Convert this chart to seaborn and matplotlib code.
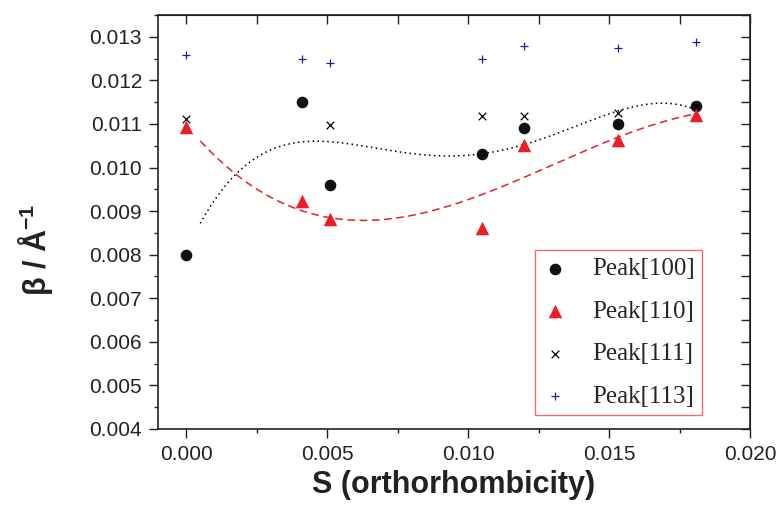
import numpy as np
import pandas as pd
import seaborn as sns
import matplotlib.pyplot as plt

# --------------------------- DATA ---------------------------
s_values = [0.0000, 0.0041, 0.0051, 0.0105, 0.0120, 0.0153, 0.0181]

peak_100 = [0.00800, 0.01150, 0.00960, 0.01030, 0.01090, 0.01100, 0.01140]
peak_110 = [0.01092, 0.00922, 0.00882, 0.00861, 0.01052, 0.01062, 0.01121]
peak_111 = [0.01111, np.nan, 0.01098, 0.01119, 0.01119, 0.01124, 0.01140]
peak_113 = [0.01258, 0.01249, 0.01239, 0.01249, 0.01279, 0.01274, 0.01289]

labels = ['Peak[100]', 'Peak[110]', 'Peak[111]', 'Peak[113]']

# fitted curves are drawn from S = 0.0005 up to the last point
fit_start = 0.0005

df = pd.DataFrame({
    'S': s_values,
    'Peak[100]': peak_100,
    'Peak[110]': peak_110,
    'Peak[111]': peak_111,
    'Peak[113]': peak_113,
})

# --------------------------- POLY FITS ---------------------------
def poly_fit(x, y, order):
    coef = np.polyfit(x, y, order)
    xs = np.linspace(fit_start, max(x), 200)
    return pd.DataFrame({'S': xs, 'fit': np.polyval(coef, xs)})

fit_100 = poly_fit(s_values, peak_100, 4)
fit_110 = poly_fit(s_values, peak_110, 3)

# --------------------------- STYLE ---------------------------
sns.set_style('ticks')
plt.rcParams['font.family'] = ['Liberation Sans', 'DejaVu Sans']
plt.rcParams['mathtext.fontset'] = 'custom'
plt.rcParams['mathtext.rm'] = 'Liberation Sans'
plt.rcParams['mathtext.bf'] = 'Liberation Sans:bold'

fig = plt.figure(figsize=(7.76, 5.11), dpi=100)
ax = fig.add_axes([0.2036, 0.1605, 0.7629, 0.8102])

sns.lineplot(data=fit_100, x='S', y='fit', color='black', lw=1.1,
             ls=(0, (1, 2.2)), ax=ax)
sns.lineplot(data=fit_110, x='S', y='fit', color='#e8202a', lw=1.1,
             ls=(0, (5, 3)), ax=ax)

# scatter points
sns.scatterplot(data=df, x='S', y='Peak[100]', marker='o', s=70, color='#111111',
                edgecolor='#111111', linewidth=0, label='Peak[100]', ax=ax, zorder=3)
sns.scatterplot(data=df, x='S', y='Peak[110]', marker='^', s=95, color='#ee1c24',
                edgecolor='#ee1c24', linewidth=0, label='Peak[110]', ax=ax, zorder=3)
sns.scatterplot(data=df, x='S', y='Peak[111]', marker='x', s=30, color='black',
                linewidth=0.9, label='Peak[111]', ax=ax, zorder=4)
sns.scatterplot(data=df, x='S', y='Peak[113]', marker='+', s=36, color='#1c1c9c',
                linewidth=0.9, label='Peak[113]', ax=ax, zorder=4)

# --------------------------- AXES ---------------------------
ax.set_xlim(-0.001, 0.020)
ax.set_ylim(0.004, 0.0135)
ax.set_xticks([0.000, 0.005, 0.010, 0.015, 0.020])
ax.set_xticks(np.arange(0, 0.0201, 0.0025), minor=True)
ax.set_yticks(np.arange(0.004, 0.01301, 0.001))
ax.set_yticks(np.arange(0.004, 0.01351, 0.0005), minor=True)
ax.xaxis.set_major_formatter(plt.FormatStrFormatter('%.3f'))
ax.yaxis.set_major_formatter(plt.FormatStrFormatter('%.3f'))

ax.tick_params(axis='both', which='major', direction='out', length=6.5, width=1,
               labelsize=15, pad=5, colors='#222222')
ax.tick_params(axis='both', which='minor', direction='out', length=3, width=1,
               colors='#222222')
for sp in ax.spines.values():
    sp.set_linewidth(1.2)
    sp.set_color('#222222')

# inward ticks on top and right
top = ax.secondary_xaxis('top')
top.set_xticks([0.000, 0.005, 0.010, 0.015, 0.020])
top.set_xticks(np.arange(0, 0.0201, 0.0025), minor=True)
top.tick_params(which='both', direction='in', length=6.5, width=1, labeltop=False,
                colors='#222222')
right = ax.secondary_yaxis('right')
right.set_yticks(np.arange(0.004, 0.01301, 0.001))
right.set_yticks(np.arange(0.004, 0.01351, 0.0005), minor=True)
right.tick_params(which='both', direction='in', length=6.5, width=1, labelright=False,
                  colors='#222222')

ax.set_xlabel('S (orthorhombicity)', fontsize=22, fontweight='bold', labelpad=4,
              color='#222222')
ax.set_ylabel(r'$\mathbf{\beta}$ / Å$^{\mathbf{-1}}$', fontsize=22, fontweight='bold',
              color='#222222')
ax.yaxis.set_label_coords(-0.174, 0.432)

leg = ax.legend(loc='upper left', bbox_to_anchor=(0.637, 0.432), borderaxespad=0,
                frameon=True, fancybox=False, edgecolor='#e84a50',
                prop={'family': 'Liberation Serif', 'size': 18},
                handlelength=1.0, handletextpad=0.98, labelspacing=0.8,
                borderpad=0.3)
leg.get_frame().set_linewidth(1.0)

fig.savefig('out.png', dpi=100)
